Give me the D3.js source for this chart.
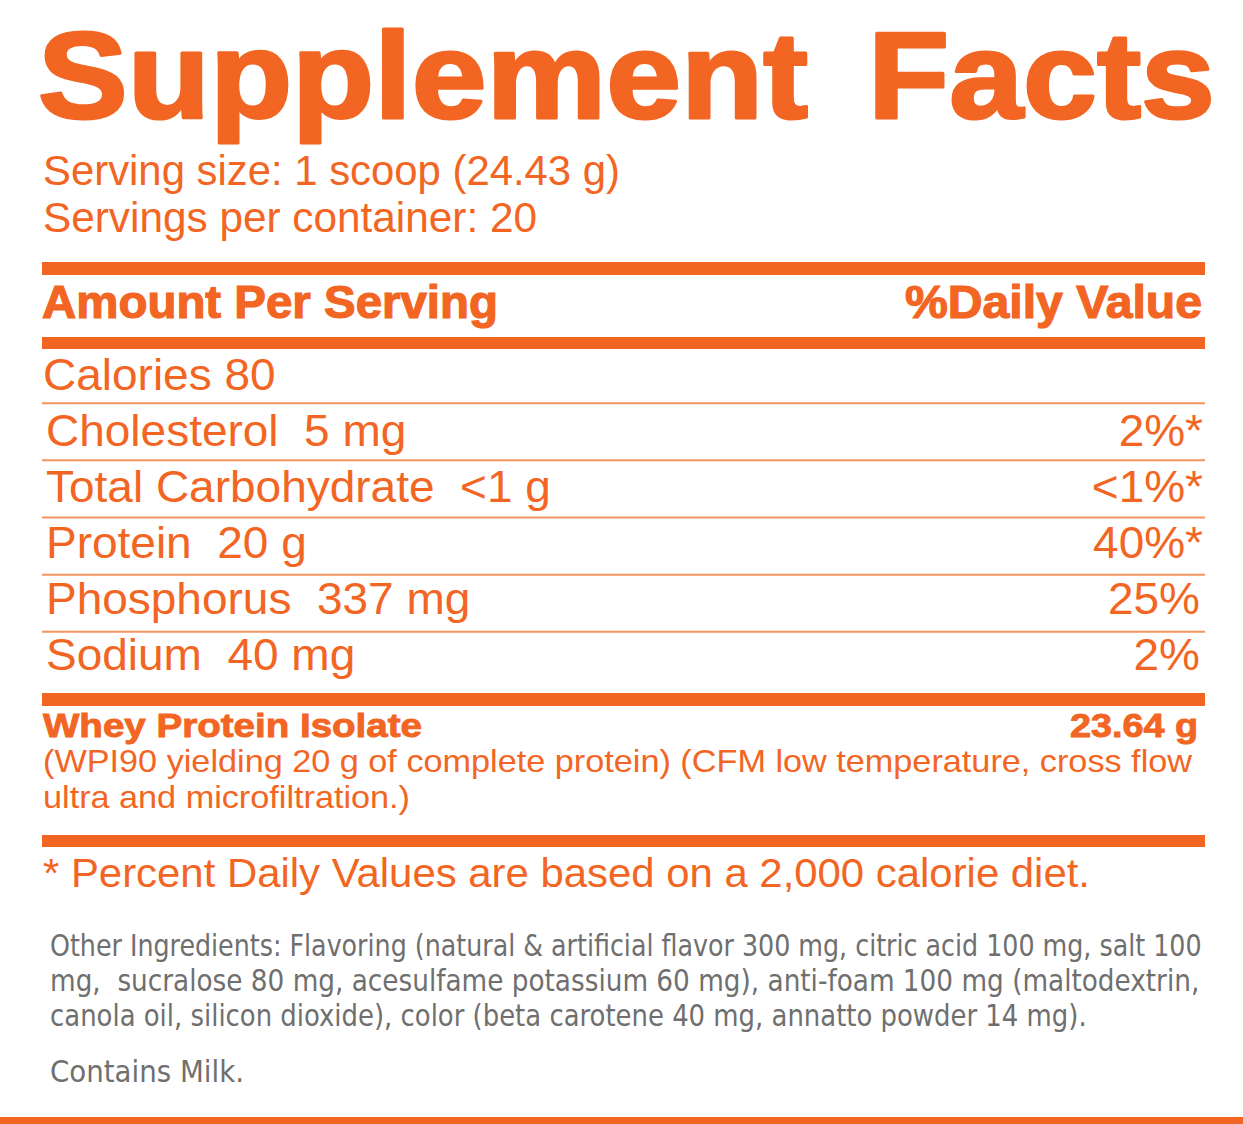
<!DOCTYPE html>
<html><head><meta charset="utf-8">
<script src="https://cdn.jsdelivr.net/npm/d3@7"></script>
<style>
html,body{margin:0;padding:0;background:#fff;}
svg{display:block;}
text{white-space:pre;}
</style></head><body>
<svg id="c" width="1243" height="1124"></svg>
<script>
// ---------- DATA ----------
const titleWords = ["Supplement", "Facts"];
const servingLines = ["Serving size: 1 scoop (24.43 g)", "Servings per container: 20"];
const headerLabels = ["Amount Per Serving", "%Daily Value"];
const nutrientNames = ["Calories", "Cholesterol", "Total Carbohydrate", "Protein", "Phosphorus", "Sodium"];
const nutrientAmounts = ["80", "5 mg", "<1 g", "20 g", "337 mg", "40 mg"];
const dailyValues = ["", "2%*", "<1%*", "40%*", "25%", "2%"];
const blendName = "Whey Protein Isolate";
const blendAmount = "23.64 g";
const blendNote = ["(WPI90 yielding 20 g of complete protein) (CFM low temperature, cross flow", "ultra and microfiltration.)"];
const footnote = "* Percent Daily Values are based on a 2,000 calorie diet.";
const otherIngredients = [
  "Other Ingredients: Flavoring (natural & artificial flavor 300 mg, citric acid 100 mg, salt 100",
  "mg,  sucralose 80 mg, acesulfame potassium 60 mg), anti-foam 100 mg (maltodextrin,",
  "canola oil, silicon dioxide), color (beta carotene 40 mg, annatto powder 14 mg)."
];
const allergen = "Contains Milk.";

// ---------- STYLE / LAYOUT ----------
const ORANGE = "#F26522";
const THIN = "#F39462";
const GRAY = "#6f6f6f";
const SANS = "'Liberation Sans', Arial, Helvetica, sans-serif";
const NARROW = "'Liberation Sans Narrow', 'DejaVu Sans Condensed', 'Liberation Sans', sans-serif";

const svg = d3.select("#c");
const W = 1243, H = 1124;
const x = d3.scaleLinear().domain([0, 1]).range([42, 1205]);   // panel extent

function fitW(sel, w) { sel.attr("textLength", w).attr("lengthAdjust", "spacingAndGlyphs"); }
function stretch(sel, k) {
  sel.each(function () {
    const l = this.getComputedTextLength();
    d3.select(this).attr("textLength", l * k).attr("lengthAdjust", "spacingAndGlyphs");
  });
}
// squeeze/stretch a text horizontally with a transform so its box matches width w
function scaleTo(sel, x0, y0, w) {
  sel.attr("x", 0).attr("y", 0).each(function () {
    const l = this.getComputedTextLength();
    d3.select(this).attr("transform", `translate(${x0},${y0}) scale(${w / l},1)`);
  });
}

svg.append("rect").attr("width", W).attr("height", H).attr("fill", "#fff");

// Title
const titleX = [38, 868], titleW = [770, 347];
svg.selectAll("text.title").data(titleWords).join("text")
  .attr("class", "title")
  .attr("x", (d, i) => titleX[i]).attr("y", 118)
  .attr("font-family", SANS).attr("font-weight", 700).attr("font-size", 123)
  .attr("fill", ORANGE).attr("stroke", ORANGE).attr("stroke-width", 3).attr("stroke-linejoin", "round")
  .text(d => d)
  .each(function (d, i) { fitW(d3.select(this), titleW[i]); });

// Serving lines
const servW = [577, 494];
const servY = d3.scalePoint().domain(d3.range(servingLines.length)).range([185, 232]);
svg.selectAll("text.serv").data(servingLines).join("text")
  .attr("class", "serv")
  .attr("x", 43).attr("y", (d, i) => servY(i))
  .attr("font-family", SANS).attr("font-size", 42).attr("fill", ORANGE)
  .text(d => d)
  .each(function (d, i) { fitW(d3.select(this), servW[i]); });

// Thick bars
const bars = [{ y: 262, h: 13 }, { y: 337, h: 12 }, { y: 693, h: 13 }, { y: 835, h: 12 }];
svg.selectAll("rect.bar").data(bars).join("rect")
  .attr("class", "bar")
  .attr("x", x(0)).attr("width", x(1) - x(0))
  .attr("y", d => d.y).attr("height", d => d.h)
  .attr("fill", ORANGE);

// Header
const hdr = svg.append("g").attr("font-family", SANS).attr("font-weight", 700).attr("font-size", 46)
  .attr("fill", ORANGE).attr("stroke", ORANGE).attr("stroke-width", 1.2);
hdr.append("text").attr("x", 42).attr("y", 318).text(headerLabels[0]).call(fitW, 456);
hdr.append("text").attr("x", 1202).attr("y", 318).attr("text-anchor", "end").text(headerLabels[1]).call(fitW, 297);

// Nutrient rows
const rowBand = d3.scaleBand().domain(d3.range(nutrientNames.length)).range([346, 689]);
const rowBase = d3.scalePoint().domain(d3.range(nutrientNames.length)).range([390, 670]);

svg.selectAll("line.sep").data(d3.range(1, nutrientNames.length)).join("line")
  .attr("class", "sep")
  .attr("x1", x(0)).attr("x2", x(1))
  .attr("y1", d => rowBand(d)).attr("y2", d => rowBand(d))
  .attr("stroke", THIN).attr("stroke-width", 2);

const rows = svg.selectAll("g.row").data(nutrientNames.map((n, i) => ({ n, a: nutrientAmounts[i], dv: dailyValues[i], i })))
  .join("g").attr("class", "row")
  .attr("font-family", SANS).attr("font-size", 44).attr("fill", ORANGE);

rows.append("text")
  .attr("x", d => d.i === 0 ? 43 : 46).attr("y", d => rowBase(d.i))
  .text(d => d.n + (d.i === 0 ? " " : "  ") + d.a)
  .call(stretch, 1.045);

rows.filter(d => d.dv).append("text")
  .attr("x", d => d.dv.endsWith("*") ? 1203 : 1200).attr("y", d => rowBase(d.i))
  .attr("text-anchor", "end")
  .text(d => d.dv)
  .call(stretch, 1.045);

// Blend
const bl = svg.append("g").attr("font-family", SANS).attr("fill", ORANGE);
bl.append("text").attr("x", 43).attr("y", 736.5).attr("font-size", 34).attr("font-weight", 700)
  .attr("stroke", ORANGE).attr("stroke-width", 0.9).text(blendName).call(fitW, 379);
bl.append("text").attr("x", 1198).attr("y", 736.5).attr("font-size", 34).attr("font-weight", 700)
  .attr("stroke", ORANGE).attr("stroke-width", 0.9).attr("text-anchor", "end").text(blendAmount).call(fitW, 128);
const noteW = [1149, 367];
const noteY = d3.scalePoint().domain(d3.range(blendNote.length)).range([771.5, 808]);
bl.selectAll("text.note").data(blendNote).join("text").attr("class", "note")
  .attr("x", 43).attr("y", (d, i) => noteY(i)).attr("font-size", 30.5)
  .text(d => d)
  .each(function (d, i) { fitW(d3.select(this), noteW[i]); });

// Footnote
svg.append("text").attr("x", 43).attr("y", 887).attr("font-family", SANS).attr("font-size", 40)
  .attr("fill", ORANGE).text(footnote).call(fitW, 1047);

// Other ingredients
const ingW = [1152, 1150, 1037];
const ingY = d3.scalePoint().domain(d3.range(otherIngredients.length)).range([956, 1026]);
const ing = svg.append("g").attr("font-family", NARROW).attr("font-size", 31).attr("fill", GRAY);
ing.selectAll("text.ing").data(otherIngredients).join("text").attr("class", "ing")
  .text(d => d)
  .each(function (d, i) { scaleTo(d3.select(this), 50, ingY(i), ingW[i]); });
ing.append("text").text(allergen).call(scaleTo, 50, 1082, 194);

// Bottom bar
svg.append("rect").attr("x", 0).attr("y", 1117).attr("width", W).attr("height", 7).attr("fill", ORANGE);
</script>
</body></html>
